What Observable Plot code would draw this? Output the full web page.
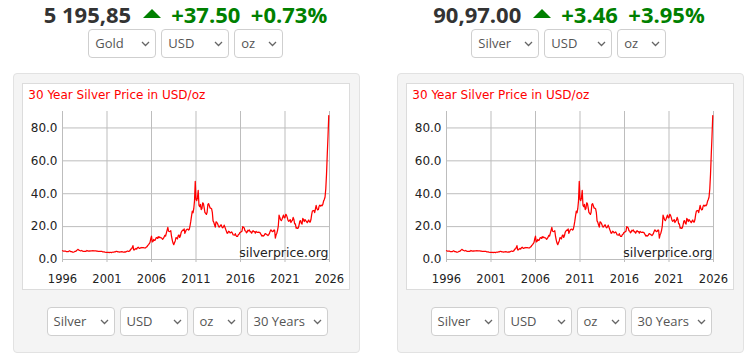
<!DOCTYPE html>
<html>
<head>
<meta charset="utf-8">
<script src="https://cdn.jsdelivr.net/npm/d3@7"></script>
<script src="https://cdn.jsdelivr.net/npm/@observablehq/plot@0.6"></script>
<style>
html,body{margin:0;padding:0;background:#fff;}
body{position:relative;width:748px;height:355px;overflow:hidden;font-family:"Open Sans",sans-serif;}
</style>
</head>
<body>
<script>
// ---------- data ----------
const startYear = 1996;
const prices1996_2005 = [
  5.35, 5.15, 5.10, 5.15, 5.05, 4.85, 4.80, 4.80, 4.80, 5.20, 5.25, 4.80,
  4.80, 4.70, 4.40, 4.50, 4.70, 5.00, 5.00, 5.60, 5.80, 6.20, 5.70, 5.50,
  5.30, 5.30, 5.50, 5.10, 5.00, 5.00, 5.00, 4.90, 5.10, 5.50, 5.20, 5.10,
  5.20, 5.10, 5.20, 5.20, 5.30, 5.40, 5.20, 5.20, 5.20, 5.30, 5.10, 5.10,
  5.00, 5.00, 5.00, 4.90, 4.90, 4.90, 4.70, 4.60, 4.70, 4.50, 4.40, 4.40,
  4.40, 4.40, 4.30, 4.20, 4.40, 4.40, 4.20, 4.40, 4.50, 4.40, 4.60, 4.60,
  4.90, 4.90, 4.80, 4.60, 4.60, 4.50, 4.60, 4.70, 4.80, 4.60, 4.50, 4.50,
  4.60, 4.50, 4.80, 5.00, 5.20, 4.90, 5.10, 5.40, 6.30, 6.40, 7.20, 8.40,
  5.90, 5.90, 6.40, 6.70, 6.30, 7.20, 7.50, 7.00, 6.70, 7.00, 7.30, 7.10,
  7.20, 7.20, 7.10, 7.00, 7.00, 7.60, 7.80, 8.60, 9.00, 9.60, 10.40, 12.60
];
const prices2006_2015 = [
  14.20, 10.70, 11.00, 12.20, 11.60, 11.80, 13.00, 13.30, 12.80, 13.90, 13.20, 13.70,
  13.30, 13.20, 12.90, 12.30, 12.90, 13.60, 14.70, 14.30, 16.00, 17.70, 19.50, 17.20,
  17.00, 17.10, 17.50, 14.00, 11.80, 10.00, 9.00, 10.20, 11.30, 13.30, 13.00, 12.50,
  14.50, 14.90, 13.40, 14.40, 16.50, 17.30, 17.80, 17.70, 18.60, 15.90, 17.10, 18.10,
  18.40, 18.50, 17.90, 18.40, 20.60, 23.30, 26.50, 29.40, 28.40, 30.90, 35.70, 47.50,
  36.50, 35.80, 37.60, 42.00, 33.00, 32.10, 33.50, 30.40, 30.90, 34.50, 34.00, 31.60,
  28.70, 28.00, 27.40, 28.70, 33.50, 34.00, 32.70, 31.30, 31.20, 30.90, 28.70, 23.50,
  22.60, 21.10, 19.70, 22.90, 22.60, 21.90, 20.70, 19.70, 19.90, 20.80, 21.10, 19.70,
  19.30, 19.80, 20.90, 19.70, 18.40, 17.20, 15.90, 16.20, 17.20, 16.90, 16.20, 16.30,
  16.80, 16.10, 15.00, 14.90, 14.80, 15.70, 14.50, 14.00, 14.00, 15.00, 15.40, 16.30
];
const prices2016_2025 = [
  16.50, 16.90, 17.20, 20.00, 19.60, 19.20, 17.50, 17.30, 16.20, 16.70, 17.80, 17.40,
  18.00, 16.80, 16.90, 16.00, 16.90, 17.50, 17.00, 17.00, 16.00, 17.10, 16.60, 16.50,
  16.60, 16.50, 16.50, 15.70, 15.00, 14.20, 14.60, 14.30, 14.70, 15.60, 15.80, 15.20,
  15.00, 14.60, 15.00, 15.90, 17.20, 18.00, 17.50, 17.00, 17.10, 17.90, 17.80, 13.00,
  15.00, 16.00, 17.80, 20.50, 27.00, 25.50, 24.20, 23.60, 24.50, 25.90, 27.00, 25.30,
  25.40, 27.50, 27.00, 25.60, 23.90, 23.20, 23.60, 24.30, 22.50, 23.40, 23.80, 25.60,
  24.40, 21.70, 21.60, 19.10, 19.30, 18.90, 19.30, 21.10, 23.40, 23.60, 22.00, 21.60,
  25.00, 24.20, 23.10, 24.30, 23.60, 23.00, 22.40, 23.40, 24.00, 22.80, 22.70, 24.30,
  27.40, 29.50, 29.70, 29.80, 28.50, 30.60, 32.90, 31.00, 30.20, 30.40, 32.50, 33.00,
  32.50, 33.00, 32.70, 33.50, 35.50, 36.50, 38.00, 43.00, 52.00, 64.00, 75.00, 87.50
];
const xTicks = [1996, 2001, 2006, 2011, 2016, 2021, 2026];
const yTicks = [0, 20, 40, 60, 80];
const chartTitle = "30 Year Silver Price in USD/oz";
const watermark = "silverprice.org";
const leftQuote = ["5 195,85", "+37.50", "+0.73%"];
const rightQuote = ["90,97.00", "+3.46", "+3.95%"];
const leftTopSelects = ["Gold", "USD", "oz"];
const rightTopSelects = ["Silver", "USD", "oz"];
const bottomSelects = ["Silver", "USD", "oz", "30 Years"];

const monthly = [...prices1996_2005, ...prices2006_2015, ...prices2016_2025];
const rows = monthly.map((p, i) => ({t: startYear + i / 12, p}));

// ---------- helpers ----------
function add(parent, tag, css, text) {
  const e = document.createElement(tag);
  if (css) e.style.cssText = css;
  if (text != null) e.textContent = text;
  parent.appendChild(e);
  return e;
}
const body = document.body;

function header(left, width, q) {
  const h = add(body, "div", `position:absolute;left:${left}px;top:-1px;width:${width}px;height:30px;display:flex;align-items:center;justify-content:center;font:700 22px/30px 'Open Sans';white-space:nowrap`);
  add(h, "span", "color:#333;margin-right:11.5px", q[0]);
  add(h, "span", "display:block;width:0;height:0;border-left:9.5px solid transparent;border-right:9.5px solid transparent;border-bottom:9px solid #008000;margin-right:10.5px;position:relative;top:-1px");
  add(h, "span", "color:#008000;margin-right:10.5px", q[1]);
  add(h, "span", "color:#008000", q[2]);
}

function selects(left, top, labels, widths) {
  const row = add(body, "div", `position:absolute;left:${left}px;top:${top}px;display:flex;gap:5px`);
  labels.forEach((lab, i) => {
    const s = add(row, "div", `box-sizing:border-box;position:relative;width:${widths[i]}px;height:29px;border:1px solid #cfcfcf;border-radius:4px;background:#fff;font:400 13px/27px 'Open Sans';color:#555;padding-left:6px;white-space:nowrap`, lab);
    s.insertAdjacentHTML("beforeend", `<svg width="9" height="6" style="position:absolute;right:5px;top:11px"><polyline points="1,1 4.5,4.5 8,1" fill="none" stroke="#666" stroke-width="1.3"/></svg>`);
  });
}

function makeChart() {
  return Plot.plot({
    width: 327,
    height: 180,
    marginLeft: 40,
    marginRight: 20,
    marginTop: 6,
    marginBottom: 26,
    x: {type: "linear", domain: [1996, 2026], label: null},
    y: {type: "linear", domain: [0, 90], label: null},
    style: {fontFamily: "'DejaVu Sans'", fontSize: "12px", color: "#222", background: "transparent", overflow: "visible"},
    marks: [
      Plot.gridY({ticks: yTicks, stroke: "#bdbdbd", strokeOpacity: 1, strokeWidth: 1}),
      Plot.gridX({ticks: xTicks, stroke: "#bdbdbd", strokeOpacity: 1, strokeWidth: 1, insetBottom: -3}),
      Plot.axisY({ticks: yTicks, label: null, tickSize: 0, tickPadding: 5, fontSize: 12, tickFormat: d => d.toFixed(1)}),
      Plot.axisX({ticks: xTicks, label: null, tickSize: 0, tickPadding: 15, fontSize: 11.5, tickFormat: d => String(d)}),
      Plot.text([watermark], {frameAnchor: "bottom-right", lineAnchor: "bottom", textAnchor: "end", dx: -1, dy: -3, fontSize: 12.5, fill: "#222"}),
      Plot.line(rows, {x: "t", y: "p", stroke: "#ff0000", strokeWidth: 1.25})
    ]
  });
}

function panel(off, quote, topSel, topSelLeft) {
  header(off === 0 ? 0 : 384, off === 0 ? 371 : 370, quote);
  selects(topSelLeft, 29, topSel, [68, 68, 49]);
  add(body, "div", `position:absolute;box-sizing:border-box;left:${12.5 + off}px;top:73px;width:347px;height:279.5px;background:#f4f4f4;border:1px solid #e2e2e2;border-radius:4px`);
  add(body, "div", `position:absolute;box-sizing:border-box;left:${22 + off}px;top:83px;width:327.5px;height:207px;background:#fff;border:1px solid #dcdcdc`);
  add(body, "div", `position:absolute;left:${28.3 + off}px;top:87.5px;font:400 12px/14px 'DejaVu Sans';color:#ff0000;white-space:nowrap`, chartTitle);
  const c = add(body, "div", `position:absolute;left:${22 + off}px;top:105px;width:327px;height:180px`);
  c.appendChild(makeChart());
  selects(46.5 + off, 307, bottomSelects, [68, 68, 49, 81]);
}

panel(0, leftQuote, leftTopSelects, 88.3);
panel(384, rightQuote, rightTopSelects, 471.3);
</script>
</body>
</html>
